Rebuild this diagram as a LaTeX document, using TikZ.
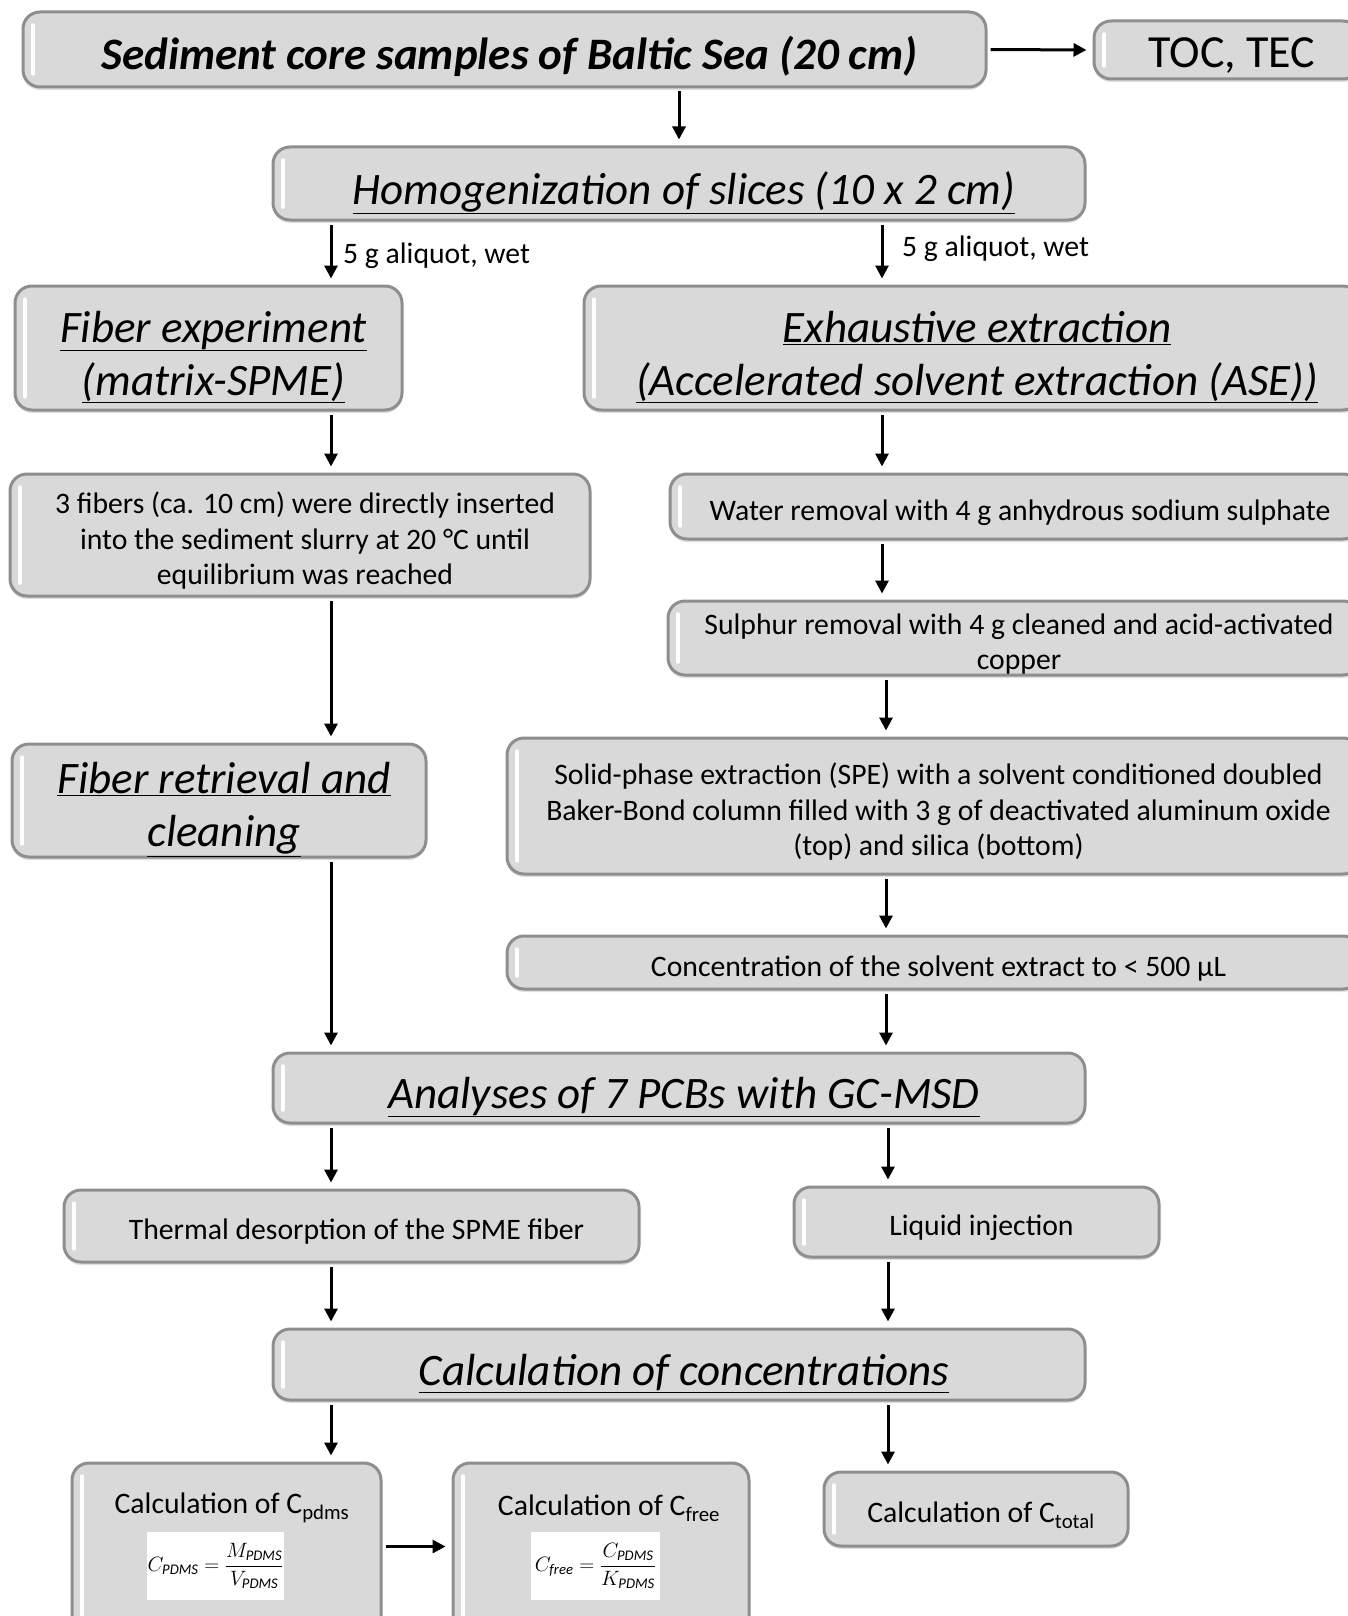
\documentclass[tikz,border=0pt]{standalone}
\usepackage{fontspec}
\setmainfont{Carlito}
\usetikzlibrary{arrows.meta,shadows}
\definecolor{boxgray}{HTML}{D9D9D9}
\definecolor{edgegray}{HTML}{8E8E8E}
\begin{document}
\begin{tikzpicture}[x=1pt,y=-1pt,
  box/.style={draw=edgegray, line width=3pt, fill=boxgray, rounded corners=17pt,
    inner sep=0pt,
    drop shadow={opacity=0.25,shadow xshift=0pt,shadow yshift=-3pt},
    path picture={\draw[white, line width=3.5pt, line cap=round]
      ([xshift=10pt,yshift=-13pt]path picture bounding box.north west) --
      ([xshift=10pt,yshift=13pt]path picture bounding box.south west);}},
  bigl/.style={align=center, inner sep=0pt, font=\fontsize{45}{53}\selectfont\itshape, xshift=5pt, yshift=-9pt},
  smalll/.style={align=center, inner sep=0pt, font=\fontsize{29.7}{35.5}\selectfont, xshift=5pt, yshift=-6pt},
  small/.style={font=\fontsize{29.7}{35.5}\selectfont},
  lbl/.style={font=\fontsize{29.7}{35}\selectfont, anchor=west, inner sep=0pt},
  fbox/.style={fill=white, draw=none, minimum width=137pt, minimum height=68pt, inner sep=0pt, font=\fontsize{21}{25}\selectfont},
  arr/.style={line width=3pt, -{Triangle[length=13pt,width=13pt]}, shorten <=3pt, shorten >=6pt}
]
\fill[white] (0,0) rectangle (1348,1616);
\useasboundingbox (0,0) rectangle (1348,1616);

% column coordinates for arrows
\coordinate (xl) at (331,0);
\coordinate (xr) at (882,0);
\coordinate (xs) at (886,0);
\coordinate (xt) at (888,0);

% boxes
\node[box, minimum width=963pt, minimum height=75pt,
  label={[bigl, font=\fontsize{45}{53}\selectfont\bfseries\itshape, yshift=2pt]center:{Sediment core samples of Baltic Sea (20 cm)}}] (top) at (504.5,49.5) {};
\node[box, minimum width=266pt, minimum height=58pt,
  label={[smalll, font=\fontsize{46}{50}\selectfont, yshift=0pt]center:{TOC, TEC}}] (toc) at (1227,50) {};
\node[box, minimum width=812pt, minimum height=73pt,
  label={[bigl]center:{\underline{Homogenization of slices (10 x 2 cm)}}}] (hom) at (679,183.5) {};
\node[box, minimum width=387pt, minimum height=124pt,
  label={[bigl]center:{\underline{Fiber experiment}\\\underline{(matrix-SPME)}}}] (fib) at (208.5,348) {};
\node[box, minimum width=776pt, minimum height=124pt,
  label={[bigl]center:{\underline{Exhaustive extraction}\\\underline{(Accelerated solvent extraction (ASE))}}}] (exh) at (972,348) {};
\node[box, minimum width=580pt, minimum height=122pt,
  label={[smalll]center:{3 fibers (ca. 10 cm) were directly inserted\\into the sediment slurry at 20 °C until\\equilibrium was reached}}] (three) at (300,535) {};
\node[box, minimum width=690pt, minimum height=65pt,
  label={[smalll]center:{Water removal with 4 g anhydrous sodium sulphate}}] (water) at (1015,506.5) {};
\node[box, minimum width=692pt, minimum height=74pt,
  label={[smalll]center:{Sulphur removal with 4 g cleaned and acid-activated\\copper}}] (sul) at (1014,638) {};
\node[box, minimum width=414pt, minimum height=113pt,
  label={[bigl]center:{\underline{Fiber retrieval and}\\\underline{cleaning}}}] (ret) at (219,800.5) {};
\node[box, minimum width=853pt, minimum height=136pt,
  label={[smalll]center:{Solid-phase extraction (SPE) with a solvent conditioned doubled\\Baker-Bond column filled with 3 g of deactivated aluminum oxide\\(top) and silica (bottom)}}] (spe) at (933.5,806) {};
\node[box, minimum width=853pt, minimum height=53pt,
  label={[smalll]center:{Concentration of the solvent extract to < 500 µL}}] (conc) at (933.5,962.5) {};
\node[box, minimum width=812pt, minimum height=70pt,
  label={[bigl]center:{\underline{Analyses of 7 PCBs with GC-MSD}}}] (ana) at (679,1088) {};
\node[box, minimum width=575pt, minimum height=72pt,
  label={[smalll]center:{Thermal desorption of the SPME fiber}}] (therm) at (351.5,1226) {};
\node[box, minimum width=365pt, minimum height=70pt,
  label={[smalll]center:{Liquid injection}}] (liq) at (976.5,1222) {};
\node[box, minimum width=812pt, minimum height=71pt,
  label={[bigl]center:{\underline{Calculation of concentrations}}}] (calc) at (679,1364.5) {};
\node[box, minimum width=309pt, minimum height=177pt] (cp) at (226.5,1551.5) {};
\node[box, minimum width=296pt, minimum height=177pt] (cf) at (601,1551.5) {};
\node[box, minimum width=304pt, minimum height=74pt,
  label={[smalll]center:{Calculation of C\textsubscript{total}}}] (ct) at (976,1509) {};

% texts in the bottom boxes
\node[small, inner sep=0pt] (cpt) at (232,1508) {Calculation of C\textsubscript{pdms}};
\node[fbox] (cpf) at (215.5,1566) {$\displaystyle C_{\mathit{PDMS}}=\frac{M_{\mathit{PDMS}}}{V_{\mathit{PDMS}}}$};
\node[small, inner sep=0pt] (cft) at (609,1508) {Calculation of C\textsubscript{free}};
\node[fbox, minimum width=129pt] (cff) at (595.5,1566) {$\displaystyle C_{\mathit{free}}=\frac{C_{\mathit{PDMS}}}{K_{\mathit{PDMS}}}$};

% labels
\node[lbl] (l1) at (343,256) {5 g aliquot, wet};
\node[lbl] (l2) at (902,249) {5 g aliquot, wet};

% arrows
\draw[arr] (top.east) -- (toc.west);
\draw[arr] (top.south -| hom.north) -- (hom.north);
\draw[arr] (hom.south -| xl) -- (fib.north -| xl);
\draw[arr] (hom.south -| xr) -- (exh.north -| xr);
\draw[arr] (fib.south -| xl) -- (three.north -| xl);
\draw[arr] (three.south -| xl) -- (ret.north -| xl);
\draw[arr] (ret.south -| xl) -- (ana.north -| xl);
\draw[arr] (exh.south -| xr) -- (water.north -| xr);
\draw[arr] (water.south -| xr) -- (sul.north -| xr);
\draw[arr] (sul.south -| xs) -- (spe.north -| xs);
\draw[arr] (spe.south -| xs) -- (conc.north -| xs);
\draw[arr] (conc.south -| xs) -- (ana.north -| xs);
\draw[arr] (ana.south -| xl) -- (therm.north -| xl);
\draw[arr] (ana.south -| xt) -- (liq.north -| xt);
\draw[arr] (therm.south -| xl) -- (calc.north -| xl);
\draw[arr] (liq.south -| xt) -- (calc.north -| xt);
\draw[arr] (calc.south -| xl) -- (cp.north -| xl);
\draw[arr] (calc.south -| xt) -- (ct.north -| xt);
\draw[arr] ([yshift=5pt]cp.east) -- ([yshift=5pt]cf.west);
\end{tikzpicture}
\end{document}
